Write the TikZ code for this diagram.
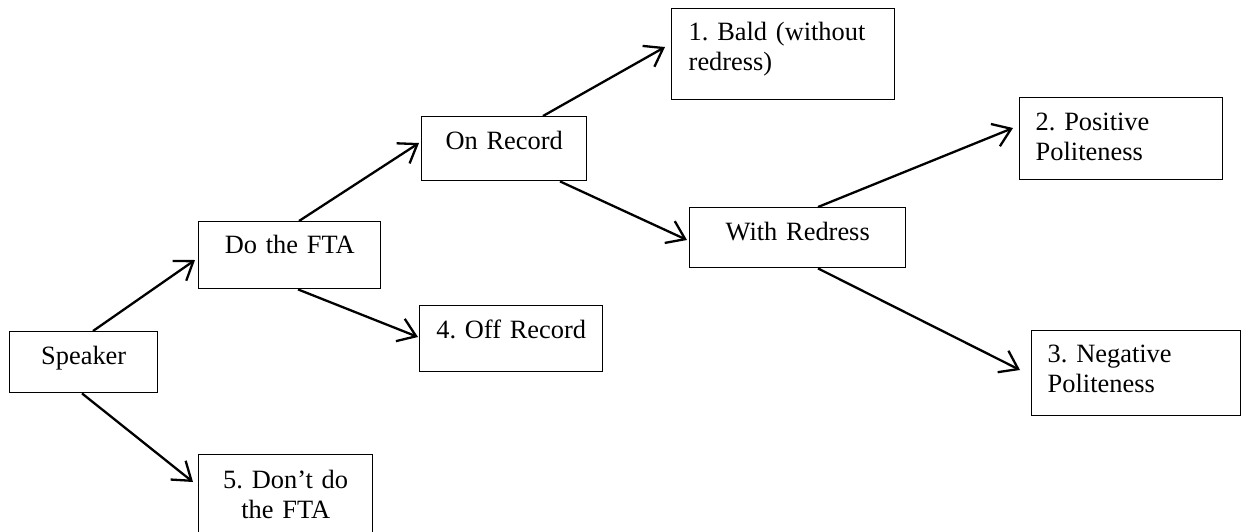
\documentclass[tikz,border=0pt]{standalone}
\usepackage{fontspec}
\setmainfont{Liberation Serif}
\usetikzlibrary{arrows.meta,calc}
\frenchspacing

\begin{document}
\begin{tikzpicture}[x=0.5pt,y=-0.5pt,
    font=\fontsize{13.2}{15}\selectfont,
    box/.style={draw, line width=0.7pt, anchor=north west, inner ysep=0pt, inner xsep=4pt, align=center},
    conn/.style={-{Straight Barb[length=8.5pt,width=12pt]}, line width=1.15pt}]
                    \useasboundingbox (0,0) rectangle (1241,531);
                    \clip (0,0) rectangle (1241,531);
                    \node[box, text width=66pt, text height=16.5pt, text depth=14pt] (speaker) at (9,331) {Speaker};
                    \node[box, text width=83pt, text height=16pt, text depth=17.5pt] (dofta) at (198,221) {Do the FTA};
                    \node[box, text width=79pt, text height=17pt, text depth=28pt] (dont) at (198,454) {5. Don’t do\\the FTA};
                    \node[box, text width=74.5pt, text height=16.5pt, text depth=15.5pt] (onrec) at (421,116) {On Record};
                    \node[box, text width=83.5pt, text height=16.5pt, text depth=16.5pt] (offrec) at (419,305) {4. Off Record};
                    \node[box, text width=94.5pt, inner xsep=8.5pt, align=left, text height=16pt, text depth=29.5pt] (bald) at (671,8) {1. Bald (without\\redress)};
                    \node[box, text width=100pt, text height=16.5pt, text depth=13.5pt] (withred) at (689,207) {With Redress};
                    \node[box, text width=85.5pt, inner xsep=8pt, align=left, text height=16.5pt, text depth=24.5pt] (pos) at (1019,97) {2. Positive\\Politeness};
                    \node[box, text width=88.5pt, inner xsep=8pt, align=left, text height=16pt, text depth=26.5pt] (neg) at (1031,330) {3. Negative\\Politeness};
                    \draw[conn] ($(speaker.north west)+(84,0)$) -- ($(dofta.north west)+(-3,39)$);
                    \draw[conn] ($(speaker.south west)+(73,0)$) -- ($(dont.north west)+(-5,28)$);
                    \draw[conn] ($(dofta.north west)+(101,0)$) -- ($(onrec.north west)+(-2,27)$);
                    \draw[conn] ($(dofta.south west)+(100,0)$) -- ($(offrec.north west)+(-1,32)$);
                    \draw[conn] ($(onrec.north west)+(122,0)$) -- ($(bald.north west)+(-6,39)$);
                    \draw[conn] ($(onrec.south west)+(139,0)$) -- ($(withred.north west)+(-2,33)$);
                    \draw[conn] ($(withred.north west)+(129,0)$) -- ($(pos.north west)+(-6,31)$);
                    \draw[conn] ($(withred.south west)+(129,0)$) -- ($(neg.north west)+(-11,40)$);
                \end{tikzpicture}
\end{document}
